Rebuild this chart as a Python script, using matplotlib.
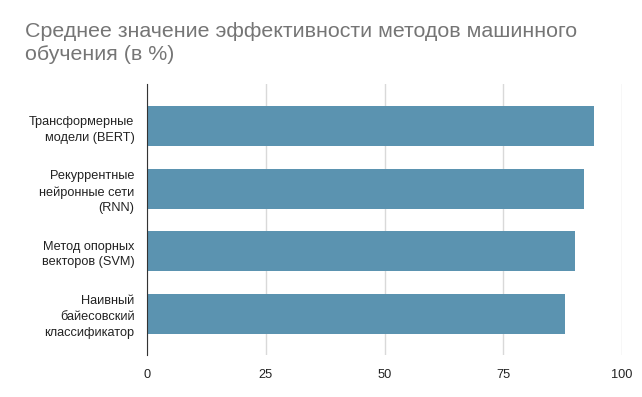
import matplotlib.pyplot as plt

plt.rcParams['font.family'] = ['Liberation Sans', 'DejaVu Sans']

# data
methods = ['Трансформерные\nмодели (BERT)',
           'Рекуррентные\nнейронные сети\n(RNN)',
           'Метод опорных\nвекторов (SVM)',
           'Наивный\nбайесовский\nклассификатор']
scores = [94, 92, 90, 88]
ticks = [0, 25, 50, 75, 100]

fig = plt.figure(figsize=(6.42, 3.97), dpi=100)
ax = fig.add_axes([147 / 642, 1 - 355 / 397, 475 / 642, 271 / 397])

pos = list(range(len(methods)))
ax.barh(pos, scores, height=0.64, color='#5b93b0', zorder=3)

ax.set_xlim(0, 100)
ax.set_ylim(3.66, -0.68)
ax.set_xticks(ticks)
ax.set_xticklabels([str(t) for t in ticks])
ax.set_yticks(pos)
ax.set_yticklabels(methods, ha='right', linespacing=1.4)

ax.grid(axis='x', color='#d9d9d9', linewidth=1, zorder=0)
for s in ['top', 'right', 'bottom']:
    ax.spines[s].set_visible(False)
ax.spines['left'].set_color('#333333')
ax.spines['left'].set_zorder(4)
ax.tick_params(axis='both', length=0, labelsize=9.2, colors='#222222')
ax.tick_params(axis='x', pad=10)
ax.tick_params(axis='y', pad=9)

fig.text(25 / 642, 1 - 22 / 397,
         'Среднее значение эффективности методов машинного\nобучения (в %)',
         fontsize=15.4, color='#757575', va='top', ha='left', linespacing=1.3)

fig.savefig('out.png', dpi=100)
